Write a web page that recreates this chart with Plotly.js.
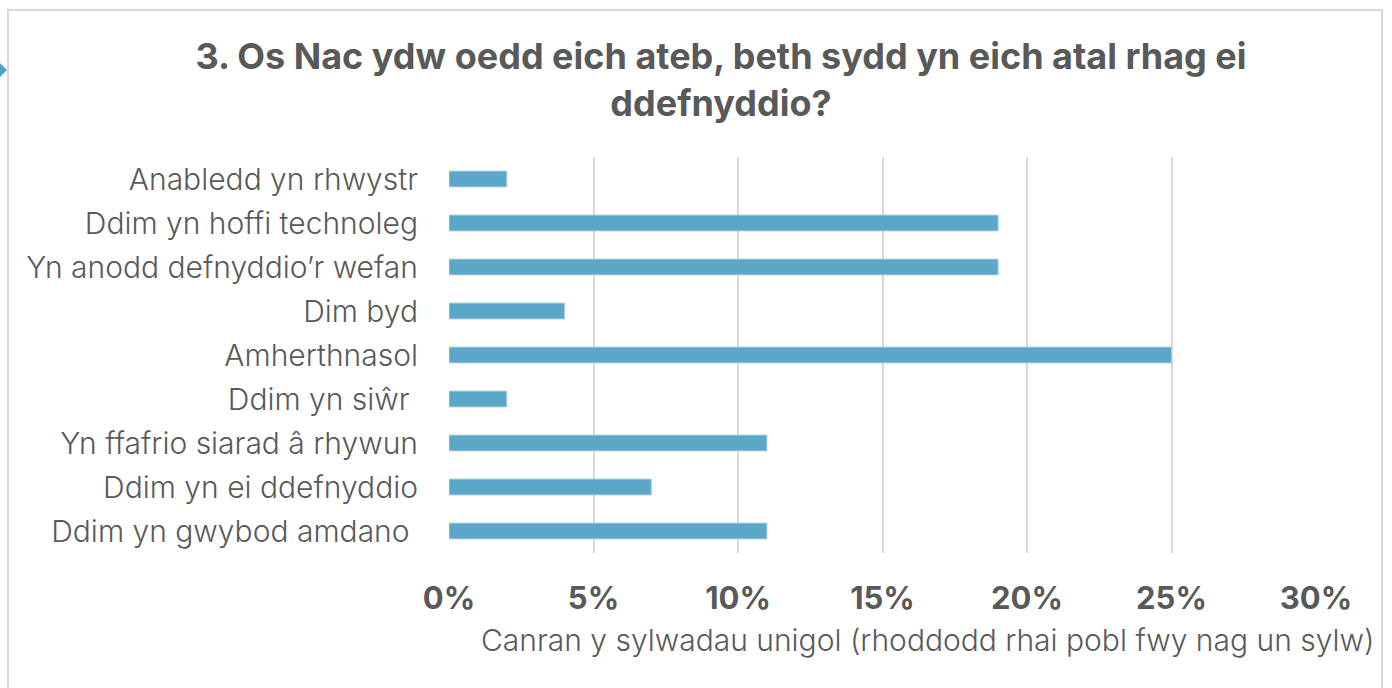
<!DOCTYPE html>
<html>
<head>
<meta charset="utf-8">
<script src="https://cdn.plot.ly/plotly-3.0.1.min.js"></script>
<style>
  html, body { margin: 0; padding: 0; background: #fff; }
  #plot { width: 1392px; height: 688px; }
</style>
</head>
<body>
<div id="plot"></div>
<script>
// Data
const categories = [
    'Anabledd yn rhwystr',
    'Ddim yn hoffi technoleg',
    'Yn anodd defnyddio’r wefan',
    'Dim byd',
    'Amherthnasol',
    'Ddim yn siŵr\u00a0',
    'Yn ffafrio siarad â rhywun',
    'Ddim yn ei ddefnyddio',
    'Ddim yn gwybod amdano\u00a0'
];
const percentages = [2, 19, 19, 4, 25, 2, 11, 7, 11];
const tickValues = [0, 5, 10, 15, 20, 25, 30];
const tickLabels = ['0%', '5%', '10%', '15%', '20%', '25%', '30%'];

const titleText = '3. Os Nac ydw oedd eich ateb, beth sydd yn eich atal rhag ei<br>ddefnyddio?';
const axisTitleText = 'Canran y sylwadau unigol (rhoddodd rhai pobl fwy nag un sylw)';

const W = 1392, H = 688;
const margin = { l: 449, r: 76, t: 157, b: 135 };
const plotW = W - margin.l - margin.r;
const plotH = H - margin.t - margin.b;
const textGrey = '#595959';
const fontFam = 'Inter, sans-serif';

// pixel -> paper helpers for decorations outside the plot area
const px = x => (x - margin.l) / plotW;
const py = y => (H - margin.b - y) / plotH;

const trace = {
    type: 'bar',
    orientation: 'h',
    y: categories,
    x: percentages,
    marker: { color: '#5ba7c7', line: { color: '#a9d0e0', width: 1 } },
    hoverinfo: 'none'
};

const layout = {
    width: W,
    height: H,
    margin: margin,
    paper_bgcolor: '#ffffff',
    plot_bgcolor: '#ffffff',
    showlegend: false,
    bargap: 0.64,
    font: { family: fontFam, color: textGrey },
    title: {
        text: titleText,
        x: px(721), xanchor: 'center', xref: 'paper',
        y: 1 - 69 / H, yanchor: 'middle',
        font: { family: fontFam, size: 36, color: textGrey, weight: 'bold' }
    },
    xaxis: {
        range: [0, 30],
        tickvals: tickValues,
        ticktext: tickLabels,
        showgrid: true,
        gridcolor: '#d9d9d9',
        gridwidth: 2,
        zeroline: false,
        showline: false,
        ticks: '',
        ticklabelstandoff: 24,
        tickfont: { size: 31, color: textGrey, weight: 'bold' },
        fixedrange: true
    },
    yaxis: {
        autorange: 'reversed',
        showgrid: false,
        zeroline: false,
        showline: false,
        ticks: '',
        ticklabelstandoff: 30,
        tickfont: { size: 30, color: textGrey, weight: 300 },
        fixedrange: true
    },
    annotations: [{
        text: axisTitleText,
        xref: 'paper', yref: 'paper',
        x: px(927), y: py(640),
        xanchor: 'center', yanchor: 'middle',
        showarrow: false,
        font: { size: 30, color: textGrey, weight: 300 }
    }],
    shapes: [
        {
            type: 'rect', xref: 'paper', yref: 'paper',
            x0: px(8), x1: px(1382), y0: py(720), y1: py(10),
            line: { color: '#d9d9d9', width: 2 },
            fillcolor: 'rgba(0,0,0,0)',
            layer: 'below'
        },
        {
            type: 'path', xref: 'paper', yref: 'paper',
            path: `M ${px(-9)} ${py(70)} L ${px(-1)} ${py(62)} L ${px(7)} ${py(70)} L ${px(-1)} ${py(78)} Z`,
            fillcolor: '#4fa3c4',
            line: { width: 0 }
        }
    ]
};

Plotly.newPlot('plot', [trace], layout, { displayModeBar: false, staticPlot: true });
</script>
</body>
</html>
